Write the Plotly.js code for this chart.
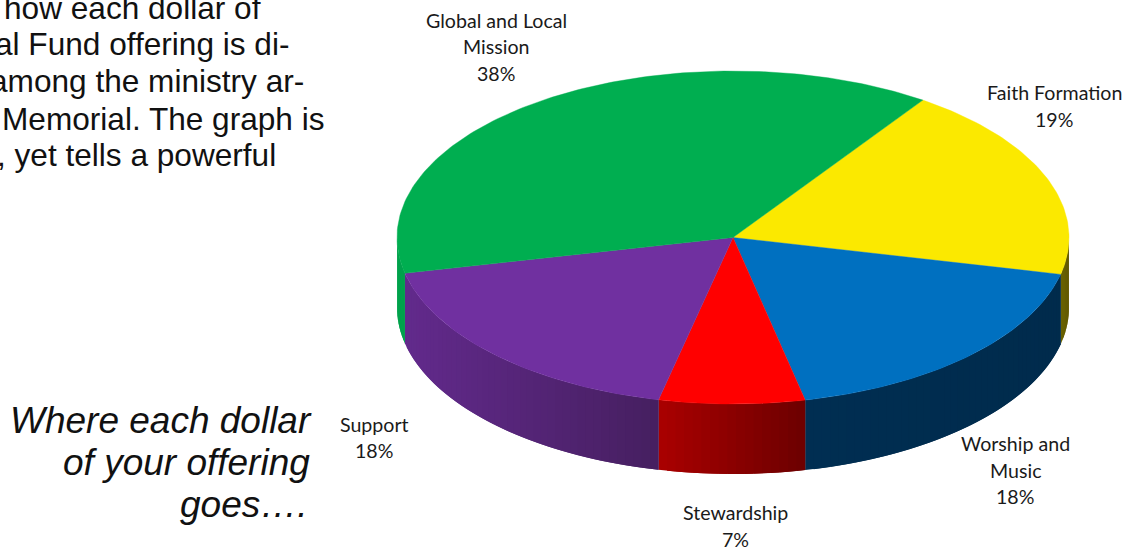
<!DOCTYPE html>
<html>
<head>
<meta charset="utf-8">
<script src="https://cdn.plot.ly/plotly-3.0.1.min.js"></script>
<style>html,body{margin:0;padding:0;background:#fff;overflow:hidden}</style>
</head>
<body>
<div id="chart" style="width:1133px;height:548px"></div>
<script>
// Ministry shares of the General Fund, clockwise from the top-right slice boundary
const ministries = ["Faith Formation", "Worship and Music", "Stewardship", "Support", "Global and Local Mission"];
const shares = [19, 18, 7, 18, 38];
const topColors = ["#fbe900", "#0070c0", "#ff0000", "#7030a0", "#00ae50"];
// Side wall shading: colour at the left and right end of each visible wall
const wallLeftColors = ["#6b6200", "#002e52", "#aa0000", "#622a8c", "#00a24c"];
const wallRightColors = ["#625900", "#002b4c", "#6c0000", "#461f60", "#00a24c"];
const paragraphLines = ["how each dollar of", "al Fund offering is di-", "among the ministry ar-", "Memorial. The graph is", ", yet tells a powerful"];
const captionLines = ["Where each dollar", "of your offering", "goes…."];
// Wrapped label lines per ministry
const labelLines = [["Faith Formation"], ["Worship and", "Music"], ["Stewardship"], ["Support"], ["Global and Local", "Mission"]];

// Geometry of the tilted disc, in pixel-sized axis units
const disc = {cx: 733, cy: 237.5, rx: 336, ry: 166.5, depth: 70, startDeg: 34.4};
const rad = d => d * Math.PI / 180;
const rimX = d => disc.cx + disc.rx * Math.sin(rad(d));
const rimY = (d, drop) => disc.cy - disc.ry * Math.cos(rad(d)) + drop;

const total = shares.reduce((a, b) => a + b, 0);
const bounds = [];
shares.reduce((acc, v, i) => {
  bounds[i] = [acc, acc + v / total * 360];
  return acc + v / total * 360;
}, disc.startDeg);

const hex = c => [1, 3, 5].map(i => parseInt(c.substr(i, 2), 16));
const mix = (a, b, f) => {
  const A = hex(a), B = hex(b);
  return "rgb(" + A.map((v, i) => Math.round(v + (B[i] - v) * f)).join(",") + ")";
};
const poly = (x, y, color, name, lineWidth) => ({
  type: "scatter", mode: "lines", x, y, fill: "toself", fillcolor: color,
  line: {color, width: lineWidth}, hoverinfo: "skip", showlegend: false, name
});

const traces = [];

// Side walls: strips along the front half of the rim, each one running under its neighbour
bounds.forEach(([a, b], i) => {
  const from = Math.max(a, 90);
  const to = Math.min(b, 270);
  if (to <= from) return;
  const n = Math.max(1, Math.ceil((to - from) / 1.5));
  const xL = rimX(from), xR = rimX(to);
  for (let s = n - 1; s >= 0; s--) {
    const d0 = from + (to - from) * s / n;
    const d1 = from + (to - from) * (s + 1) / n;
    const dEnd = s === 0 ? from : from + (to - from) * (s - 1) / n;
    // Shading runs left to right across the page
    const f = (rimX((d0 + d1) / 2) - Math.min(xL, xR)) / Math.abs(xL - xR);
    // Painted from the far end, so each strip also covers the seam of the previous one
    traces.push(poly(
      [rimX(dEnd), rimX(d1), rimX(d1), rimX(dEnd), rimX(dEnd)],
      [rimY(dEnd, 0), rimY(d1, 0), rimY(d1, disc.depth), rimY(dEnd, disc.depth), rimY(dEnd, 0)],
      mix(wallLeftColors[i], wallRightColors[i], f), ministries[i] + " wall", 0
    ));
  }
});

// Top faces of the slices
bounds.forEach(([a, b], i) => {
  const xs = [disc.cx], ys = [disc.cy];
  const n = Math.ceil(b - a);
  for (let s = 0; s <= n; s++) {
    const d = a + (b - a) * s / n;
    xs.push(rimX(d));
    ys.push(rimY(d, 0));
  }
  xs.push(disc.cx);
  ys.push(disc.cy);
  traces.push(poly(xs, ys, topColors[i], ministries[i], 0.4));
});

// Label anchors, one per ministry: centre x and the y of each line
const labelAnchors = [
  {x: 1054, y: [92, 119]},
  {x: 1015, y: [443, 470, 496]},
  {x: 735, y: [512, 539]},
  {x: 374, y: [424, 450]},
  {x: 496, y: [20, 46, 73]}
];
const annotations = [];
const note = (text, x, y, xanchor, font) => annotations.push({
  text, x, y, xref: "x", yref: "y", xanchor, yanchor: "middle", showarrow: false, borderpad: 0, font
});
const labelFont = {family: "Lato, 'Noto Sans', sans-serif", size: 19.6, color: "#1a1a1a"};
ministries.forEach((m, i) => {
  const lines = labelLines[i].concat([shares[i] + "%"]);
  lines.forEach((t, k) => note(t, labelAnchors[i].x, labelAnchors[i].y[k], "center", labelFont));
});

const bodyFont = {family: "'Liberation Sans', Arial, sans-serif", size: 31.6, color: "#111"};
const paragraphRight = [262, 290, 305, 326, 277];
const paragraphY = [8, 44, 81, 119, 155];
paragraphLines.forEach((t, i) => note(t, paragraphRight[i], paragraphY[i], "right", bodyFont));

const captionFont = {family: "'Liberation Sans', Arial, sans-serif", size: 37, color: "#111"};
const captionY = [420, 462, 504];
const captionRight = [312.5, 310.5, 308.5];
captionLines.forEach((t, i) => note("<i>" + t + "</i>", captionRight[i], captionY[i], "right", captionFont));

const hiddenAxis = r => ({range: r, visible: false, fixedrange: true, showgrid: false, zeroline: false});
Plotly.newPlot("chart", traces, {
  width: 1133, height: 548,
  margin: {l: 0, r: 0, t: 0, b: 0},
  paper_bgcolor: "#fff", plot_bgcolor: "#fff",
  xaxis: hiddenAxis([0, 1133]),
  yaxis: hiddenAxis([548, 0]),
  showlegend: false,
  annotations
}, {displayModeBar: false, staticPlot: true});
</script>
</body>
</html>
